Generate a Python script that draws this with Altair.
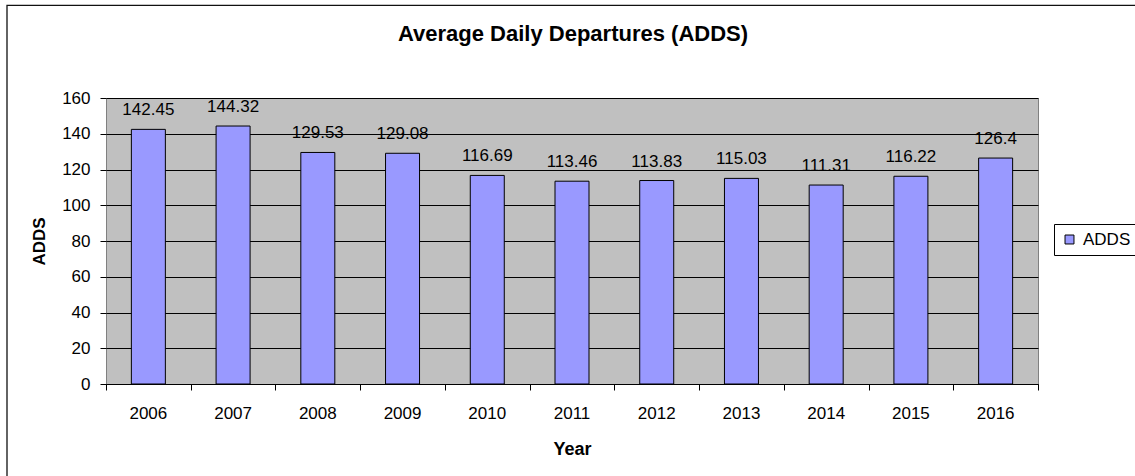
import altair as alt
import pandas as pd

years = ["2006", "2007", "2008", "2009", "2010", "2011", "2012", "2013", "2014", "2015", "2016"]
adds = [142.45, 144.32, 129.53, 129.08, 116.69, 113.46, 113.83, 115.03, 111.31, 116.22, 126.4]
value_labels = ["142.45", "144.32", "129.53", "129.08", "116.69", "113.46", "113.83", "115.03", "111.31", "116.22", "126.4"]
y_ticks = [0, 20, 40, 60, 80, 100, 120, 140, 160]
title_text = "Average Daily Departures (ADDS)"
series_name = "ADDS"

FONT = "Liberation Sans"
W, H = 932, 286
PL, PT = 106, 98

df = pd.DataFrame({"Year": years, "ADDS": adds, "label": value_labels, "series": series_name})
edges = pd.DataFrame({"i": list(range(len(years) + 1))})
one = pd.DataFrame({"a": [0]})

xband = alt.Scale(domain=years, paddingInner=0, paddingOuter=0)
yscale = alt.Scale(domain=[0, 160], nice=False)

yaxis = alt.Axis(title="ADDS", titleFont=FONT, titleFontSize=17, titleFontWeight="bold",
                 titleColor="black", titlePadding=13,
                 values=y_ticks, labelFont=FONT, labelFontSize=17, labelColor="black",
                 labelPadding=10, tickSize=6, tickColor="black", ticks=True,
                 domain=False, grid=True, gridColor="black", gridWidth=1)

bars = alt.Chart(df).mark_bar(size=34, stroke="black", strokeWidth=1).encode(
    x=alt.X("Year:N", scale=xband, sort=years,
            axis=alt.Axis(title="Year", titleFont=FONT, titleFontSize=18, titleFontWeight="bold",
                          titleColor="black", titlePadding=19,
                          labelFont=FONT, labelFontSize=17, labelColor="black", labelAngle=0,
                          labelBaseline="top", labelPadding=21, orient="bottom",
                          ticks=False, tickSize=0, domain=True, domainColor="black", domainWidth=1,
                          grid=False)),
    y=alt.Y("ADDS:Q", scale=yscale, axis=yaxis),
    color=alt.Color("series:N", scale=alt.Scale(domain=[series_name], range=["#9999FF"]),
                    legend=alt.Legend(title=None, orient="none", legendX=948, legendY=126,
                                      symbolType="square", symbolSize=80,
                                      symbolStrokeColor="black", symbolStrokeWidth=1,
                                      symbolFillColor="#9999FF",
                                      labelFont=FONT, labelFontSize=17, labelColor="black",
                                      strokeColor="black", fillColor="white",
                                      padding=7, labelOffset=5)),
)

texts = alt.Chart(df).mark_text(font=FONT, fontSize=17, color="black", baseline="alphabetic", dy=-14).encode(
    x=alt.X("Year:N", scale=xband, sort=years, axis=None),
    y=alt.Y("ADDS:Q", scale=yscale, axis=yaxis),
    text="label:N",
)

ticks_layer = alt.Chart(edges).mark_point(opacity=0).encode(
    x=alt.X("i:Q", scale=alt.Scale(domain=[0, len(years)], nice=False, zero=False),
            axis=alt.Axis(values=list(range(len(years) + 1)), labels=False, ticks=True, orient="bottom",
                          tickSize=6, tickColor="black", domain=False, grid=False, title=None)),
)

border = alt.Chart(one).mark_rect(fill=None, stroke="#111111", strokeWidth=1.3).encode(
    x=alt.value(7 - PL), x2=alt.value(1145 - PL),
    y=alt.value(5.3 - PT), y2=alt.value(485 - PT),
)

title = alt.Chart(one).mark_text(text=title_text, font=FONT, fontSize=22, fontWeight="bold",
                                 color="black", baseline="alphabetic", align="center").encode(
    x=alt.value(573 - PL), y=alt.value(41 - PT),
)

chart = alt.layer(border, title, bars, texts, ticks_layer).resolve_scale(
    x="independent"
).properties(
    width=W, height=H,
    autosize=alt.AutoSizeParams(type="none"),
    padding={"left": PL, "top": PT, "right": 1135 - PL - W, "bottom": 476 - PT - H},
    background="white",
).configure_view(
    fill="#C0C0C0", stroke="#808080", strokeWidth=1
).configure_legend(strokeWidth=1)

chart.save("out.html", embed_options={"renderer": "svg", "actions": False})
